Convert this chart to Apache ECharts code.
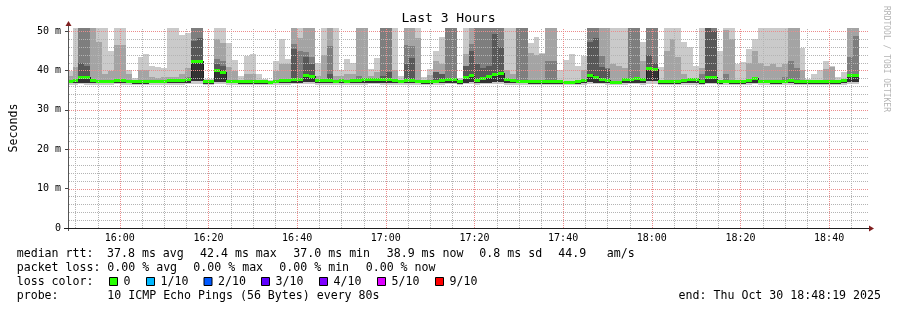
<!DOCTYPE html>
<html>
<head>
<meta charset="utf-8">
<title>Last 3 Hours</title>
<script src="https://cdn.jsdelivr.net/npm/echarts@6.0.0/dist/echarts.min.js"></script>
<style>
html,body{margin:0;padding:0;background:#ffffff;}
#chart{width:897px;height:310px;}
</style>
</head>
<body>
<div id="chart"></div>
<script>
// ---------------- data ----------------
const _ = null;
const TITLE = 'Last 3 Hours';
const Y_NAME = 'Seconds';
const WATERMARK = 'RRDTOOL / TOBI OETIKER';
const X_MIN = 948 + 19 / 60;    // 15:48:19 (minutes since midnight)
const X_MAX = 1128 + 19 / 60;   // 18:48:19
const FIRST_STEP = 948;         // first probe step starts 15:48:00
const STEP_MIN = 80 / 60;       // probe every 80 s
const Y_MAX = 50.76;

const X_TICKS = [960, 980, 1000, 1020, 1040, 1060, 1080, 1100, 1120];
const X_TICK_LABELS = ['16:00', '16:20', '16:40', '17:00', '17:20', '17:40', '18:00', '18:20', '18:40'];
const X_MINOR = [950, 955, 965, 970, 975, 985, 990, 995, 1005, 1010, 1015, 1025, 1030, 1035, 1045, 1050, 1055, 1065, 1070, 1075, 1085, 1090, 1095, 1105, 1110, 1115, 1125];
const Y_TICKS = [0, 10, 20, 30, 40, 50];
const Y_TICK_LABELS = ['0', '10 m', '20 m', '30 m', '40 m', '50 m'];
const Y_MINOR = [2, 4, 6, 8, 12, 14, 16, 18, 22, 24, 26, 28, 32, 34, 36, 38, 42, 44, 46, 48];

// median rtt per 80 s step (ms)
const median = [
  37.4,37.5,38.3,38.3,37.6,37.4,37.3,37.3,37.6,37.6,
  37.3,37.2,37.2,37.2,37.3,37.3,37.4,37.5,37.5,37.5,
  37.8,42.4,42.4,37.3,37.3,40.0,39.6,37.4,37.4,37.3,
  37.3,37.3,37.2,37.2,37.1,37.4,37.6,37.6,37.8,37.8,
  38.9,38.6,37.5,37.5,37.6,37.4,37.5,37.4,37.5,37.6,
  37.7,37.9,37.9,37.8,37.8,37.6,37.4,37.5,37.5,37.4,
  37.3,37.3,37.4,37.6,37.8,37.8,37.3,38.3,38.9,37.6,
  38.1,38.5,39.1,39.3,37.8,37.6,37.4,37.4,37.3,37.2,
  37.2,37.3,37.2,37.2,37.1,37.1,37.2,37.5,38.9,38.2,
  37.8,37.6,37.1,37.1,37.7,37.9,38.1,37.7,40.6,40.3,
  37.2,37.2,37.2,37.3,37.5,37.9,37.9,37.3,38.2,38.2,
  37.3,37.4,37.3,37.3,37.3,37.6,38.0,37.4,37.4,37.3,
  37.3,37.4,37.5,37.3,37.3,37.2,37.2,37.2,37.3,37.3,
  37.3,37.5,38.8,38.9
];
// lowest ping per step
const pingMin = [
  36.4,36.3,36.5,36.4,36.4,36.3,36.4,36.4,36.5,36.4,
  36.3,36.4,36.3,36.3,36.4,36.4,36.3,36.4,36.4,36.4,
  36.5,36.6,36.6,36.3,36.3,36.5,36.5,36.4,36.4,36.3,
  36.3,36.3,36.3,36.3,36.2,36.4,36.4,36.4,36.5,36.5,
  36.6,36.5,36.4,36.4,36.4,36.3,36.4,36.3,36.4,36.4,
  36.4,36.5,36.5,36.4,36.4,36.4,36.3,36.4,36.4,36.3,
  36.3,36.3,36.4,36.4,36.5,36.5,36.3,36.5,36.6,36.4,
  36.5,36.5,36.6,36.6,36.4,36.4,36.3,36.3,36.3,36.3,
  36.3,36.3,36.3,36.3,36.2,36.2,36.3,36.4,36.6,36.5,
  36.5,36.4,36.2,36.2,36.4,36.5,36.5,36.4,36.6,36.6,
  36.3,36.3,36.3,36.3,36.4,36.4,36.4,36.3,36.5,36.5,
  36.3,36.4,36.3,36.3,36.3,36.4,36.5,36.3,36.3,36.3,
  36.3,36.4,36.4,36.3,36.3,36.2,36.2,36.3,36.3,36.3,
  36.3,36.4,36.5,36.5
];
// lower edge of the inner smoke bands
const pingInner = [
  36.7,36.7,36.9,36.8,36.7,36.7,36.7,36.7,36.8,36.8,
  36.7,36.6,36.6,36.6,36.7,36.7,36.7,36.7,36.7,36.7,
  36.8,37.4,37.4,36.6,36.6,37.0,37.0,36.7,36.7,36.6,
  36.6,36.6,36.6,36.6,36.5,36.7,36.8,36.8,36.8,36.8,
  37.0,37.0,36.7,36.7,36.8,36.7,36.7,36.7,36.7,36.8,
  36.8,36.9,36.9,36.8,36.8,36.8,36.7,36.7,36.7,36.7,
  36.6,36.6,36.7,36.8,36.8,36.8,36.6,36.9,37.0,36.8,
  36.9,36.9,37.0,37.0,36.8,36.8,36.7,36.7,36.6,36.6,
  36.6,36.6,36.6,36.6,36.5,36.5,36.6,36.7,37.0,36.9,
  36.8,36.8,36.5,36.5,36.8,36.8,36.9,36.8,37.2,37.2,
  36.6,36.6,36.6,36.6,36.7,36.8,36.8,36.6,36.9,36.9,
  36.6,36.7,36.6,36.6,36.6,36.8,36.9,36.7,36.7,36.6,
  36.6,36.7,36.7,36.6,36.6,36.5,36.5,36.5,36.6,36.6,
  36.6,36.7,37.0,37.1
];
// top of smoke band 1 (max ping, lightest)
const smokeTop1 = [
  39.9,52,52,52,52,52,52,44.8,52,52,
  40.1,38.1,43.3,44.2,41.0,40.8,40.5,52,52,48.9,
  49.5,52,52,37.8,37.8,52,52,47.0,42.6,38.5,
  43.7,44.2,39.1,37.8,37.5,42.5,48.0,42.9,52,52,
  52,52,41.8,52,52,52,40.0,42.8,42.0,52,
  52,40.4,43.2,52,52,52,38.5,52,52,52,
  38.3,40.4,45.0,48.4,52,52,38.0,52,52,52,
  52,52,52,52,52,52,52,52,47.0,48.5,
  44.3,52,52,40.0,42.6,44.2,41.2,43.7,52,52,
  52,52,52,52,52,52,52,47.1,52,52,
  40.8,52,52,52,47.1,45.9,41.2,52,52,52,
  45.0,52,52,41.5,42.1,45.4,48.0,52,52,52,
  52,52,52,52,45.6,37.8,39.1,40.1,42.3,41.0,
  38.2,39.5,52,52
];
// top of smoke band 2
const smokeTop2 = [
  38.7,40.8,52,52,52,47.3,39.0,39.9,46.4,46.4,
  39.0,_,40.1,40.1,38.2,38.0,38.2,38.2,38.4,39.1,
  40.6,52,52,_,_,48,47,40.8,39.9,_,
  39.1,39.1,_,_,_,39.9,41.6,41.6,52,48.2,
  52,52,38.5,44.0,52,38.5,38.7,39.0,39.0,52,
  52,38.6,39.5,52,52,40.0,_,52,52,48.3,
  _,38.8,42.5,41.6,52,52,_,44.2,52,52,
  52,52,52,52,40.0,39.0,52,52,44.4,43.8,
  44.1,52,52,_,_,_,_,40.0,52,52,
  52,52,41.6,41.2,40.6,52,52,42.5,52,52,
  _,45.0,48.0,43.3,39.0,38.0,_,40.5,52,52,
  _,50.3,48.0,_,_,41.8,44.8,41.8,41.2,41.6,
  40.8,41.6,52,52,40.0,_,_,_,40.4,40.8,
  _,_,52,52
];
// top of smoke band 3
const smokeTop3 = [
  _,_,52,52,_,_,_,_,_,_,
  _,_,_,_,_,_,_,_,_,_,
  38.4,52,52,_,_,42.9,42.5,_,_,_,
  _,_,_,_,_,_,_,_,46.7,45.0,
  44.6,43.3,_,_,46.3,_,_,_,_,38.5,
  _,_,_,52,52,_,_,46.5,46.3,_,
  _,_,_,_,52,52,_,_,46.7,52,
  52,52,52,52,_,_,52,52,_,_,
  _,42.5,42.3,_,_,_,_,_,52,52,
  43.7,40.5,_,_,_,52,52,_,52,52,
  _,_,_,_,_,_,_,39.0,52,52,
  _,39.1,_,_,_,_,_,_,_,_,
  _,38.2,42.5,40.5,_,_,_,_,_,_,
  _,_,43.3,48.8
];
// top of smoke band 4
const smokeTop4 = [
  _,_,41.8,41.1,_,_,_,_,_,_,
  _,_,_,_,_,_,_,_,_,_,
  _,47.5,48.2,_,_,41.6,41.2,_,_,_,
  _,_,_,_,_,_,_,_,45.4,_,
  43.3,41.5,_,_,39.0,_,_,_,_,_,
  _,_,_,38.5,39.5,_,_,41.6,43.1,_,
  _,_,39.5,39.1,_,_,_,41.2,45.0,41.6,
  40.5,41.0,49.2,46.0,_,_,_,_,_,_,
  _,_,_,_,_,_,_,_,47.3,48.3,
  40.8,40.3,_,_,_,_,_,_,44.0,42.0,
  _,_,_,_,_,_,_,_,52,50.0,
  _,_,_,_,_,_,_,_,_,_,
  _,_,_,_,_,_,_,_,_,_,
  _,_,38.5,39.2
];

const STATS_RTT = [['median rtt:', 16.7], ['37.8 ms avg', 107], ['42.4 ms max', 200], ['37.0 ms min', 293.3], ['38.9 ms now', 386.7], ['0.8 ms sd', 479.3], ['44.9', 558.3], ['am/s', 606.7]];
const STATS_LOSS = [['packet loss:', 16.7], ['0.00 % avg', 107.3], ['0.00 % max', 193.3], ['0.00 % min', 279.3], ['0.00 % now', 365.7]];
const LOSS_LABELS = ['0', '1/10', '2/10', '3/10', '4/10', '5/10', '9/10'];
const LOSS_COLORS = ['#26ff00', '#00b8ff', '#0059ff', '#5e00ff', '#7e00ff', '#dd00ff', '#ff0000'];
const LOSS_BOX_X = [109, 146, 203.5, 261, 319, 377, 435];
const PROBE_TEXT = '10 ICMP Echo Pings (56 Bytes) every 80s';
const END_TEXT = 'end: Thu Oct 30 18:48:19 2025';

// ---------------- styles ----------------
const FONT = 'DejaVu Sans Mono';
const SMOKE_COLORS = ['#cacaca', '#a4a4a4', '#7e7e7e', '#585858', '#323232'];
const MEDIAN_COLOR = '#26ff00';
const MAJOR_COLOR = '#eb8c8c';
const MINOR_COLOR = '#b4b4b4';

// ---------------- build ----------------
const smokeData = median.map(function (m, i) {
  const s = FIRST_STEP + i * STEP_MIN;
  const or = function (v) { return v == null ? m : v; };
  return [s, s + STEP_MIN, pingMin[i], pingInner[i], m,
    or(smokeTop1[i]), or(smokeTop2[i]), or(smokeTop3[i]), or(smokeTop4[i]),
    i > 0 ? median[i - 1] : m];
});

function renderSmoke(params, api) {
  const s = Math.max(api.value(0), X_MIN);
  const e = Math.min(api.value(1), X_MAX);
  if (e <= s) return null;
  const x0 = Math.round(api.coord([s, 0])[0]);
  const x1 = Math.round(api.coord([e, 0])[0]);
  const w = x1 - x0;
  const Y = function (v) { return Math.round(api.coord([s, Math.min(v, Y_MAX)])[1]); };
  const lo = api.value(2), inner = api.value(3), med = api.value(4), prev = api.value(9);
  const tops = [api.value(5), api.value(6), api.value(7), api.value(8)];
  const kids = [];
  function band(bot, top, col) {
    if (!(top > bot)) return;
    const yt = Y(top), yb = Y(bot);
    if (yb <= yt) return;
    kids.push({ type: 'rect', shape: { x: x0, y: yt, width: w, height: yb - yt }, style: { fill: col } });
  }
  band(lo, tops[0], SMOKE_COLORS[0]);
  for (let k = 1; k < 4; k++) band(inner, tops[k], SMOKE_COLORS[k]);
  band(inner, med, SMOKE_COLORS[4]);
  const ym = Y(med), yp = Y(prev);
  if (ym !== yp && params.dataIndex > 0) {
    kids.push({ type: 'rect', shape: { x: x0, y: Math.min(ym, yp), width: 1, height: Math.abs(ym - yp) }, style: { fill: '#202020' } });
  }
  kids.push({ type: 'rect', shape: { x: x0, y: ym - 1, width: w, height: 3 }, style: { fill: MEDIAN_COLOR } });
  return { type: 'group', children: kids };
}

const chart = echarts.init(document.getElementById('chart'), null, { renderer: 'canvas' });
chart.setOption({
  animation: false,
  backgroundColor: '#ffffff',
  textStyle: { fontFamily: FONT },
  title: {
    text: TITLE, left: 'center', top: 12, padding: 0,
    textStyle: { fontFamily: FONT, fontSize: 13, fontWeight: 'normal', color: '#000' }
  },
  grid: { left: 66, top: 28, width: 800, height: 200, containLabel: false },
  xAxis: {
    type: 'value', min: X_MIN, max: X_MAX, splitNumber: 9,
    axisLine: { show: false }, axisTick: { show: false }, splitLine: { show: false },
    axisLabel: {
      showMinLabel: false, showMaxLabel: false, margin: 5,
      fontFamily: FONT, fontSize: 10, color: '#000',
      formatter: function (v) {
        const idx = X_TICKS.indexOf(Math.round(v));
        return idx >= 0 && Math.abs(v - X_TICKS[idx]) < 0.01 ? X_TICK_LABELS[idx] : '';
      }
    }
  },
  yAxis: {
    type: 'value', min: 0, max: Y_MAX, interval: 10,
    name: Y_NAME, nameLocation: 'middle', nameGap: 48, nameRotate: 90,
    nameTextStyle: { fontFamily: FONT, fontSize: 11.6, color: '#000' },
    axisLine: { show: false },
    axisTick: { show: true, length: 3, lineStyle: { color: '#444' } },
    splitLine: { show: false },
    axisLabel: {
      showMaxLabel: false, margin: 7, fontFamily: FONT, fontSize: 10, color: '#000',
      formatter: function (v) {
        const idx = Y_TICKS.indexOf(v);
        return idx >= 0 ? Y_TICK_LABELS[idx] : '';
      }
    }
  },
  series: [
    {
      type: 'custom', name: 'smoke', z: 2, clip: true, silent: true,
      renderItem: renderSmoke,
      encode: { x: [0, 1], y: [4] },
      data: smokeData
    }
  ]
});

// grid lines, axis lines, arrows and legend block (pixel positions from the chart's own axes)
const o = chart.convertToPixel({ gridIndex: 0 }, [X_MIN, 0]);
const t = chart.convertToPixel({ gridIndex: 0 }, [X_MAX, Y_MAX]);
const ax = Math.round(o[0]), ay = Math.round(o[1]);
const rx = Math.round(t[0]), ty = Math.round(t[1]);
const g = [];
function vLine(v, col) {
  const x = Math.round(chart.convertToPixel({ xAxisIndex: 0 }, v)) + 0.5;
  g.push({ type: 'line', z: 10, silent: true, shape: { x1: x, y1: ay, x2: x, y2: ty }, style: { stroke: col, lineWidth: 1, lineDash: [1, 1] } });
}
function hLine(v, col) {
  const y = Math.round(chart.convertToPixel({ yAxisIndex: 0 }, v)) + 0.5;
  g.push({ type: 'line', z: 10, silent: true, shape: { x1: ax + 1, y1: y, x2: rx + 3, y2: y }, style: { stroke: col, lineWidth: 1, lineDash: [1, 1] } });
}
X_MINOR.forEach(function (v) { vLine(v, MINOR_COLOR); });
Y_MINOR.forEach(function (v) { hLine(v, MINOR_COLOR); });
X_TICKS.forEach(function (v) { vLine(v, MAJOR_COLOR); });
Y_TICKS.slice(1).forEach(function (v) { hLine(v, MAJOR_COLOR); });

g.push({ type: 'rect', z: 20, shape: { x: ax, y: ty - 3, width: 1, height: ay - ty + 6 }, style: { fill: '#555' } });
g.push({ type: 'rect', z: 20, shape: { x: ax - 4, y: ay, width: rx - ax + 8, height: 1 }, style: { fill: '#1f1f1f' } });
g.push({ type: 'polygon', z: 21, shape: { points: [[ax + 0.5, ty - 7], [ax - 2.5, ty - 2], [ax + 3.5, ty - 2]] }, style: { fill: '#801f1f' } });
g.push({ type: 'polygon', z: 21, shape: { points: [[rx + 8, ay + 0.5], [rx + 3, ay - 2.5], [rx + 3, ay + 3.5]] }, style: { fill: '#801f1f' } });

const LEG_FONT = '11.6px "DejaVu Sans Mono"';
function txt(s, x, y, align) {
  return { type: 'text', z: 20, x: x, y: y, style: { text: s, font: LEG_FONT, fill: '#000', textAlign: align || 'left', textVerticalAlign: 'middle' } };
}
STATS_RTT.forEach(function (p) { g.push(txt(p[0], p[1], 254)); });
STATS_LOSS.forEach(function (p) { g.push(txt(p[0], p[1], 268)); });
g.push(txt('loss color:', 16.7, 282));
LOSS_LABELS.forEach(function (l, i) {
  g.push({ type: 'rect', z: 20, shape: { x: LOSS_BOX_X[i] + 0.5, y: 277.5, width: 8, height: 8 }, style: { fill: LOSS_COLORS[i], stroke: '#000', lineWidth: 1 } });
  g.push(txt(l, LOSS_BOX_X[i] + 14.5, 282));
});
g.push(txt('probe:', 16.7, 296));
g.push(txt(PROBE_TEXT, 107.3, 296));
g.push(txt(END_TEXT, 881, 296, 'right'));
g.push({
  type: 'text', z: 20, x: 886, y: 59, rotation: -Math.PI / 2,
  style: { text: WATERMARK, font: '8px "DejaVu Sans Mono"', fill: '#b4b4b4', textAlign: 'center', textVerticalAlign: 'middle' }
});
chart.setOption({ graphic: g });
</script>
</body>
</html>
